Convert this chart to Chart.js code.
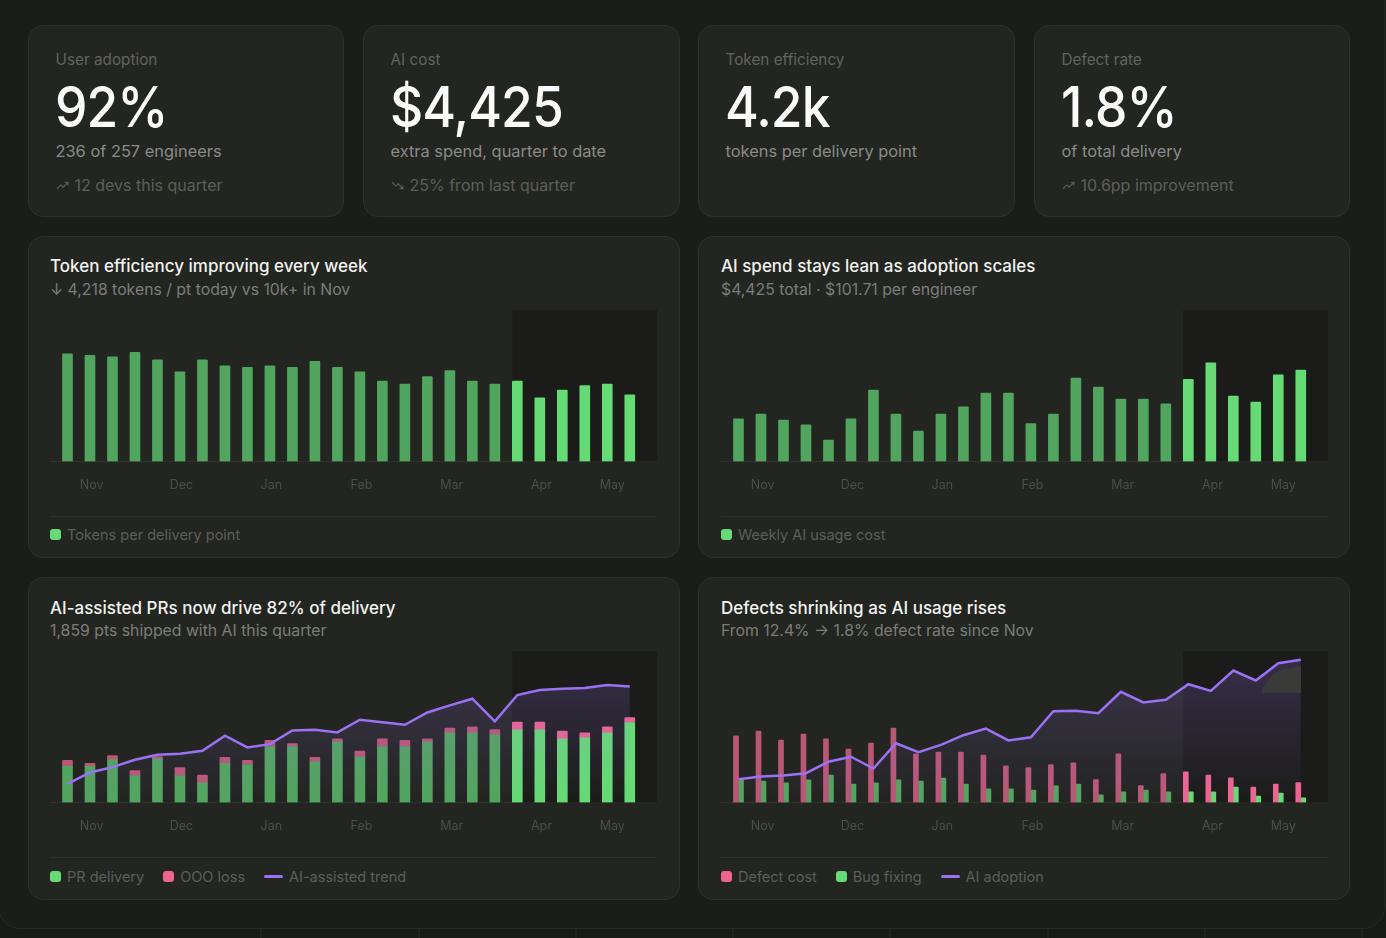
<!DOCTYPE html>
<html>
<head>
<meta charset="utf-8">
<title>AI delivery dashboard</title>
<script src="https://cdn.jsdelivr.net/npm/chart.js@4"></script>
<style>
  * { box-sizing: border-box; margin: 0; padding: 0; }
  html, body { width: 1386px; height: 938px; overflow: hidden; }
  body {
    font-family: Inter, "Noto Sans", sans-serif;
    background-color: #161b18;
    background-image: repeating-linear-gradient(90deg, transparent 0 156.3px, #262c28 156.3px 157.3px);
    background-position: 104.5px 0;
    position: relative;
  }
  .frame {
    position: absolute; left: -2px; top: -2px; width: 1387px; height: 931px;
    background: #1b1d1a; border: 1px solid #272a26; border-radius: 0 0 22px 22px;
  }
  .card {
    position: absolute; background: #232521; border: 1px solid #2f312d; border-radius: 15px;
  }
  .kpi { width: 316px; height: 192px; top: 25px; }
  .kpi .label { position: absolute; left: 26.5px; top: 24px; font-size: 15.3px; line-height: 20px; color: #626360; }
  .kpi .big { position: absolute; left: 26px; top: 47px; font-size: 56px; line-height: 68px; font-weight: 500; color: #fafafa; letter-spacing: -1px; transform: scaleX(.92); transform-origin: left center; }
  .kpi .sub { position: absolute; left: 26.5px; top: 115px; font-size: 16.4px; line-height: 20px; color: #8a8b88; }
  .kpi .trend { position: absolute; left: 26.5px; top: 149px; font-size: 16px; line-height: 20px; color: #5d5e5b; display: flex; align-items: center; gap: 6px; }
  .kpi svg { width: 13px; height: 13px; }
  .panel { width: 652px; height: 322px; --inset: 22px; }
  .panel.lft { --inset: 21px; }
  .panel.low h2 { top: 19px; }
  .panel.low .legend { top: 288px; }
  .panel h2 { position: absolute; left: var(--inset); top: 18px; font-size: 17px; line-height: 22px; font-weight: 500; color: #f2f2f0; }
  .panel p { position: absolute; left: var(--inset); top: 43px; font-size: 15.8px; line-height: 20px; color: #7c7d7a; }
  .plot { position: absolute; left: var(--inset); top: 73px; width: 607px; height: 192px; }
  .rule { position: absolute; left: var(--inset); width: 607px; top: 279px; height: 1px; background: #2f312d; }
  .legend { position: absolute; left: var(--inset); top: 287px; height: 20px; display: flex; align-items: center; font-size: 14.5px; color: #5d5e5b; }
  .legend i { display: inline-block; width: 11px; height: 11px; border-radius: 3px; margin-right: 6px; }
  .legend i.ln { width: 19px; height: 3px; border-radius: 2px; margin-right: 6px; }
  .legend span { display: flex; align-items: center; margin-right: 19px; }
  .patch {
    position: absolute; left: 563px; top: 88px; width: 39px; height: 27px; background: #3a3b38;
    clip-path: polygon(0 100%, 0 82%, 30% 30%, 55% 12%, 100% 0, 100% 100%);
  }
</style>
</head>
<body>
<div class="frame"></div>

<div class="card kpi" style="left:28px">
  <div class="label">User adoption</div><div class="big">92%</div>
  <div class="sub">236 of 257 engineers</div>
  <div class="trend"><svg viewBox="0 0 24 24" fill="none" stroke="currentColor" stroke-width="2"><path d="M2 18l7-7 4 4 9-9M16 6h6v6"/></svg>12 devs this quarter</div>
</div>
<div class="card kpi" style="left:363px;width:317px">
  <div class="label">AI cost</div><div class="big">$4,425</div>
  <div class="sub">extra spend, quarter to date</div>
  <div class="trend"><svg viewBox="0 0 24 24" fill="none" stroke="currentColor" stroke-width="2"><path d="M2 6l7 7 4-4 9 9M16 18h6v-6"/></svg>25% from last quarter</div>
</div>
<div class="card kpi" style="left:698px;width:317px">
  <div class="label">Token efficiency</div><div class="big">4.2k</div>
  <div class="sub">tokens per delivery point</div>
</div>
<div class="card kpi" style="left:1034px">
  <div class="label">Defect rate</div><div class="big">1.8%</div>
  <div class="sub">of total delivery</div>
  <div class="trend"><svg viewBox="0 0 24 24" fill="none" stroke="currentColor" stroke-width="2"><path d="M2 18l7-7 4 4 9-9M16 6h6v6"/></svg>10.6pp improvement</div>
</div>

<div class="card panel lft" style="left:28px;top:236px">
  <h2>Token efficiency improving every week</h2>
  <p>↓ 4,218 tokens / pt today vs 10k+ in Nov</p>
  <div class="plot"><canvas id="tokenChart"></canvas></div>
  <div class="rule"></div>
  <div class="legend"><span><i style="background:#66da74"></i>Tokens per delivery point</span></div>
</div>
<div class="card panel" style="left:698px;top:236px">
  <h2>AI spend stays lean as adoption scales</h2>
  <p>$4,425 total · $101.71 per engineer</p>
  <div class="plot"><canvas id="spendChart"></canvas></div>
  <div class="rule"></div>
  <div class="legend"><span><i style="background:#66da74"></i>Weekly AI usage cost</span></div>
</div>
<div class="card panel lft low" style="left:28px;top:577px;height:323px">
  <h2>AI-assisted PRs now drive 82% of delivery</h2>
  <p>1,859 pts shipped with AI this quarter</p>
  <div class="plot"><canvas id="prChart"></canvas></div>
  <div class="rule"></div>
  <div class="legend">
    <span><i style="background:#66da74"></i>PR delivery</span>
    <span><i style="background:#ec6590"></i>OOO loss</span>
    <span><i class="ln" style="background:#9b71f5"></i>AI-assisted trend</span>
  </div>
</div>
<div class="card panel low" style="left:698px;top:577px;height:323px">
  <h2>Defects shrinking as AI usage rises</h2>
  <p>From 12.4% → 1.8% defect rate since Nov</p>
  <div class="plot"><canvas id="defectChart"></canvas></div>
  <div class="patch"></div>
  <div class="rule"></div>
  <div class="legend">
    <span><i style="background:#ec6590"></i>Defect cost</span>
    <span><i style="background:#66da74"></i>Bug fixing</span>
    <span><i class="ln" style="background:#9b71f5"></i>AI adoption</span>
  </div>
</div>

<script>
const monthLabels = ['Nov', 'Dec', 'Jan', 'Feb', 'Mar', 'Apr', 'May'];
const monthWeeks = [1.07, 5.07, 9.06, 13.07, 17.08, 21.07, 24.22];

const tokensPerPoint = [6810, 6720, 6620, 6910, 6430, 5670, 6430, 6050, 5960, 6050, 5960, 6340, 5960,
  5670, 5080, 4890, 5375, 5755, 5080, 4890, 5080, 4030, 4510, 4805, 4890, 4218];
const weeklyCost = [128, 142, 124, 110, 64, 128, 214, 142, 91, 142, 164, 205, 205,
  114, 142, 250, 223, 187, 187, 173, 246, 296, 196, 178, 260, 274];
const prDelivery = [145, 145, 171, 108, 175, 108, 79, 157, 152, 224, 224, 164, 243,
  183, 224, 224, 243, 279, 279, 272, 291, 291, 255, 260, 279, 320];
const oooLoss = [24, 12, 17, 20, 9, 32, 31, 24, 17, 25, 12, 17, 12,
  23, 31, 25, 12, 19, 24, 20, 31, 31, 31, 19, 24, 20];
const aiAssisted = [13.2, 21.2, 25, 30.2, 33.7, 34.4, 36.6, 47.2, 38.9, 41.2, 50.9, 51.4, 49.5,
  58.5, 56.6, 54.9, 63.6, 68.6, 73.3, 57.3, 75.9, 79.4, 80.4, 80.8, 82.9, 82];
const defectCost = [66.7, 71.3, 62.3, 68.3, 63.7, 53.3, 59.3, 74.3, 48.7, 50.3, 50.3, 47.3, 36.7,
  35, 38, 39.7, 23, 48.7, 17, 29, 30.7, 27.3, 24.7, 15.3, 18.3, 20];
const bugFixing = [22.7, 21.3, 19.7, 22.7, 27.3, 18.3, 19.7, 22.7, 21.3, 24.3, 18.3, 13.7, 13.7,
  12.3, 16.7, 18.3, 7.7, 10.7, 12.3, 10.7, 10.7, 10.7, 15.3, 6.3, 9.3, 4.7];
const aiAdoption = [15, 16.8, 17.4, 18.9, 26.3, 29.5, 21.9, 38.2, 32.4, 37.2, 43.4, 47.7, 40,
  42.1, 58.9, 59.1, 57.6, 71.4, 64.5, 66.2, 76.3, 72, 85.1, 78.7, 89.8, 92];

const currentFrom = 20; // first week of the current quarter
const GREEN = '#66da74', GREEN_DIM = '#52a55e', PINK = '#ec6590', PINK_DIM = '#b95776', PURPLE = '#9b71f5';

const points = values => values.map((y, i) => ({ x: i, y }));
const shade = (bright, dim) => ctx => ctx.dataIndex >= currentFrom ? bright : dim;

// dark block behind the current quarter
const quarterBand = {
  id: 'quarterBand',
  beforeDatasetsDraw(chart) {
    const { ctx, chartArea, scales } = chart;
    const left = scales.x.getPixelForValue(currentFrom) - 5;
    ctx.save();
    ctx.fillStyle = '#1b1c19';
    ctx.fillRect(left, chartArea.top, chartArea.right - left, chartArea.bottom - chartArea.top);
    ctx.restore();
  }
};

function bars(label, values, bright, dim, thickness) {
  return {
    label,
    data: points(values),
    backgroundColor: shade(bright, dim),
    barThickness: thickness,
    borderRadius: 1,
    order: 2
  };
}

function trend(label, values) {
  return {
    type: 'line',
    label,
    data: points(values),
    yAxisID: 'y2',
    borderColor: PURPLE,
    borderWidth: 2.5,
    pointRadius: 0,
    tension: 0,
    fill: 'origin',
    backgroundColor: ctx => {
      const area = ctx.chart.chartArea;
      if (!area) return 'transparent';
      const g = ctx.chart.ctx.createLinearGradient(0, area.top + 20, 0, area.bottom);
      g.addColorStop(0, 'rgba(155,113,245,0.20)');
      g.addColorStop(1, 'rgba(155,113,245,0)');
      return g;
    },
    order: 1
  };
}

function draw(id, datasets, yMax, y2Max, stacked) {
  new Chart(document.getElementById(id), {
    type: 'bar',
    data: { datasets },
    plugins: [quarterBand],
    options: {
      responsive: true,
      maintainAspectRatio: false,
      animation: false,
      plugins: { legend: { display: false }, tooltip: { enabled: false } },
      scales: {
        x: {
          type: 'linear',
          min: -0.778,
          max: 26.21,
          offset: false,
          stacked,
          grid: { display: false, drawTicks: false },
          border: { color: '#30322e' },
          afterBuildTicks: axis => { axis.ticks = monthWeeks.map(value => ({ value })); },
          afterFit: axis => { axis.height = 40.5; },
          ticks: {
            autoSkip: false,
            maxRotation: 0,
            padding: 16,
            color: '#4b4d4a',
            font: { family: 'Inter', size: 12.5 },
            callback: value => monthLabels[monthWeeks.indexOf(value)]
          }
        },
        y: { display: false, min: 0, max: yMax, stacked },
        y2: { display: false, min: 0, max: y2Max || 100 }
      }
    }
  });
}

draw('tokenChart', [bars('Tokens per delivery point', tokensPerPoint, GREEN, GREEN_DIM, 10)], 9580);
draw('spendChart', [bars('Weekly AI usage cost', weeklyCost, GREEN, GREEN_DIM, 10)], 454);
draw('prChart', [
  bars('PR delivery', prDelivery, GREEN, GREEN_DIM, 10),
  bars('OOO loss', oooLoss, PINK, PINK_DIM, 10),
  trend('AI-assisted trend', aiAssisted)
], 606, 107, true);
draw('defectChart', [
  bars('Defect cost', defectCost, PINK, PINK_DIM, 5),
  bars('Bug fixing', bugFixing, GREEN, GREEN_DIM, 5),
  trend('AI adoption', aiAdoption)
], 151.5, 97.7);
</script>
</body>
</html>
